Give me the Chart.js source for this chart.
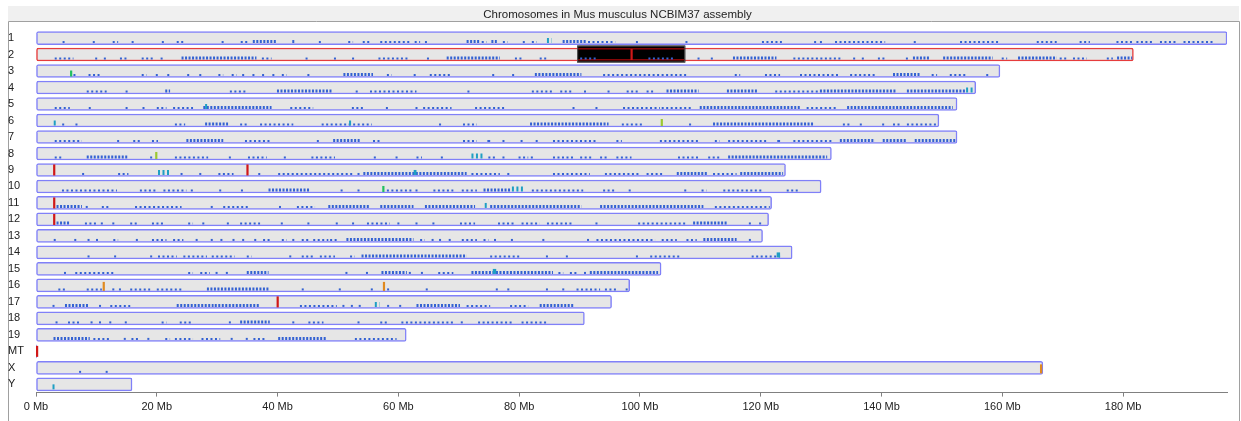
<!DOCTYPE html>
<html>
<head>
<meta charset="utf-8">
<title>Chromosomes in Mus musculus NCBIM37 assembly</title>
<script src="https://cdn.jsdelivr.net/npm/chart.js@4.4.1/dist/chart.umd.min.js"></script>
<style>
html, body { margin: 0; padding: 0; background: #fff; }
#wrap { width: 1241px; height: 421px; position: relative; }
</style>
</head>
<body>
<div id="wrap"><canvas id="chromosome-chart"></canvas></div>
<script>
// chromosome names, top to bottom
var chromosomes = ['1', '2', '3', '4', '5', '6', '7', '8', '9', '10', '11', '12', '13', '14', '15', '16', '17', '18', '19', 'MT', 'X', 'Y'];
// lengths in Mb (NCBIM37)
var lengthsMb = [197.2, 181.7, 159.6, 155.6, 152.5, 149.5, 152.5, 131.7, 124.1, 130.0, 121.8, 121.3, 120.3, 125.2, 103.5, 98.3, 95.3, 90.8, 61.3, 0.016, 166.7, 15.9];
var axisMaxMb = 197.2;
var tickStepMb = 20;

// selected region on chr 2
var highlightChr = '2';
var highlightMb = [89.6, 107.5];

// single markers: [chromosome, position Mb, kind]
var markers = [
    ['2', 98.6, 'red'],
    ['3', 5.8, 'green'],
    ['6', 103.6, 'lime'],
    ['8', 19.9, 'lime'],
    ['9', 3.0, 'red'],
    ['9', 35.0, 'red'],
    ['10', 57.5, 'green'],
    ['11', 3.0, 'red'],
    ['12', 3.0, 'red'],
    ['16', 11.2, 'orange'],
    ['16', 57.6, 'orange'],
    ['17', 40.0, 'red'],
    ['MT', 0, 'red'],
    ['X', 166.4, 'orange']
];

// feature hits per chromosome (same order as chromosomes): [start Mb, end Mb, density level]
var featureRegions = [
    [[4.4,5.1,1],[9.4,10.0,1],[12.7,13.6,1],[16.0,16.0,1],[21.0,21.0,1],[23.3,24.7,1],[30.9,30.9,1],[33.9,35.1,1],[35.9,39.9,2],[42.6,42.6,2],[47.0,47.0,1],[51.7,52.5,1],[54.1,55.3,1],[57.0,61.9,1],[62.7,63.6,1],[64.4,64.9,1],[71.3,73.5,2],[73.8,74.6,1],[75.4,76.3,2],[77.3,78.1,1],[80.6,81.3,1],[82.1,82.9,1],[84.6,85.4,3],[87.2,91.2,2],[91.4,95.9,1],[99.5,99.5,1],[107.7,107.7,1],[120.2,123.5,1],[129.0,129.0,1],[129.8,130.3,1],[132.3,140.6,1],[145.5,145.5,1],[153.0,159.6,1],[165.7,169.0,1],[172.8,174.5,1],[178.9,181.7,1],[182.2,185.0,1],[186.1,188.9,1],[190.0,194.9,1]],
    [[3.1,6.2,1],[9.8,10.3,1],[11.4,11.4,1],[13.9,15.0,1],[17.5,19.7,1],[20.8,20.8,1],[24.1,36.5,2],[37.4,39.0,1],[44.8,44.8,1],[49.5,49.5,1],[52.5,52.5,1],[56.7,61.9,1],[64.9,64.9,1],[68.0,76.8,2],[79.3,80.7,1],[83.4,84.8,1],[90.1,92.8,1],[101.4,105.8,1],[109.7,109.7,1],[111.9,111.9,1],[115.4,122.6,2],[125.4,133.6,1],[135.3,135.9,1],[136.9,136.9,1],[139.4,140.6,1],[144.2,144.2,1],[145.2,148.0,2],[150.2,158.4,2],[159.9,160.8,1],[162.6,169.0,2],[169.5,170.7,1],[171.7,174.0,1],[177.3,178.3,1],[179.0,181.5,2]],
    [[6.2,6.7,1],[8.7,10.6,1],[17.5,18.3,1],[20.0,20.0,1],[21.9,21.9,1],[25.2,25.2,1],[27.2,27.2,1],[30.2,31.0,1],[32.4,33.2,1],[34.3,34.3,1],[36.0,36.0,1],[37.6,37.6,1],[39.3,39.3,1],[40.7,41.5,1],[45.1,45.1,1],[50.9,55.8,2],[58.1,58.9,1],[62.7,62.7,1],[65.2,68.8,1],[75.7,75.7,1],[79.0,79.0,1],[82.6,90.3,2],[93.9,107.7,1],[115.7,116.6,1],[120.7,123.2,1],[126.5,133.1,1],[134.8,138.9,1],[141.9,146.4,2],[148.3,149.2,1],[151.3,154.1,1],[157.5,157.5,1]],
    [[8.4,11.7,1],[15.0,15.0,1],[21.4,22.2,2],[32.1,34.9,1],[39.9,49.0,2],[53.1,53.1,1],[55.3,63.0,1],[71.6,71.6,1],[82.1,85.7,1],[86.8,89.0,1],[90.9,90.9,1],[94.8,94.8,1],[97.8,100.0,1],[101.1,102.5,1],[104.4,109.7,2],[114.4,119.6,2],[122.4,129.8,1],[129.8,142.5,2],[144.2,154.0,2],[154.0,155.4,3]],
    [[3.1,5.6,1],[8.9,8.9,1],[15.0,15.0,1],[17.8,17.8,1],[20.0,21.6,1],[22.7,26.0,1],[27.7,39.0,2],[28.0,28.6,3],[42.1,45.9,1],[52.3,54.2,1],[58.1,58.1,1],[63.0,63.0,1],[64.1,68.8,1],[72.7,77.9,1],[89.0,89.0,1],[92.8,92.8,1],[97.2,103.3,1],[103.6,108.8,1],[109.9,126.5,2],[127.6,132.6,1],[134.3,151.8,2]],
    [[3.1,3.1,3],[4.5,4.5,1],[6.7,6.7,1],[23.0,24.7,1],[28.0,31.8,2],[33.8,35.1,1],[37.1,42.6,1],[47.3,55.6,1],[52.0,52.0,3],[66.9,66.9,1],[70.7,73.0,1],[81.8,94.8,2],[97.0,100.6,1],[108.3,108.3,1],[112.1,128.7,2],[133.6,134.8,1],[136.4,136.9,1],[140.1,140.6,1],[141.9,143.0,1],[144.2,149.2,1]],
    [[3.1,7.6,1],[13.6,13.6,1],[16.1,17.2,1],[19.2,20.2,1],[24.9,31.0,2],[34.6,39.0,1],[46.5,47.0,1],[49.2,53.6,2],[55.8,56.9,1],[70.7,73.0,1],[74.9,75.2,1],[77.4,77.4,1],[80.4,80.4,1],[82.9,82.9,1],[85.6,92.8,1],[96.1,97.0,1],[103.3,109.7,1],[112.4,113.2,1],[114.6,121.0,1],[122.9,123.2,1],[125.4,132.0,1],[133.1,138.9,2],[140.2,144.2,2],[145.5,152.2,2]],
    [[3.1,4.3,1],[8.4,15.3,2],[18.9,19.5,1],[23.0,28.5,1],[32.1,32.1,1],[35.1,38.2,1],[41.2,41.2,1],[45.6,49.5,1],[56.1,56.1,1],[59.7,59.7,1],[63.0,63.9,1],[67.2,67.2,1],[72.1,74.1,3],[74.9,76.0,1],[77.4,77.4,1],[79.9,81.5,1],[82.1,82.1,1],[85.6,89.2,1],[90.1,92.0,1],[93.4,94.8,1],[96.1,98.6,1],[106.3,109.9,1],[111.3,113.2,1],[114.6,131.0,2]],
    [[7.8,7.8,1],[13.6,15.3,1],[20.2,22.2,3],[24.1,24.1,1],[27.2,27.2,1],[30.2,32.7,1],[36.8,37.4,1],[40.1,52.5,1],[53.4,53.4,1],[54.2,71.3,2],[62.7,63.0,3],[72.1,76.8,1],[78.2,78.2,1],[85.6,91.7,1],[94.2,100.0,1],[101.1,103.9,1],[106.1,111.3,2],[112.1,116.0,1],[116.6,123.7,2]],
    [[4.3,13.4,1],[17.2,20.0,1],[21.1,24.9,1],[25.8,25.8,1],[30.5,30.5,1],[34.1,34.1,1],[38.5,45.4,2],[50.6,50.6,1],[53.4,53.4,1],[58.1,62.5,1],[63.0,63.0,1],[65.8,69.1,1],[70.5,73.0,1],[74.1,78.5,2],[78.8,81.0,3],[82.1,90.6,1],[93.9,96.1,1],[98.3,98.3,1],[107.5,107.5,1],[110.2,111.0,1],[113.8,120.4,1],[124.3,126.5,1]],
    [[3.4,7.6,2],[8.4,8.4,1],[10.9,12.0,1],[16.4,24.1,1],[29.1,29.1,1],[31.0,35.4,1],[40.4,40.4,1],[43.2,46.2,1],[48.4,55.3,2],[57.0,62.5,2],[64.4,72.7,2],[74.3,74.9,3],[75.2,90.3,2],[93.4,110.5,2],[112.4,121.5,1]],
    [[3.4,5.6,2],[8.1,10.0,1],[10.9,10.9,1],[12.8,12.8,1],[15.6,16.7,1],[19.2,21.4,1],[25.2,26.0,1],[27.7,27.7,1],[31.6,32.1,1],[33.8,37.1,1],[40.7,40.7,1],[45.1,45.1,1],[49.8,49.8,1],[52.5,52.5,1],[54.8,58.6,1],[60.0,60.0,1],[63.0,63.0,1],[65.8,65.8,1],[70.2,72.7,1],[76.5,79.3,1],[80.4,83.4,1],[84.6,89.0,1],[92.8,92.8,1],[99.7,107.7,1],[108.8,114.4,2],[118.2,118.2,1],[119.9,119.9,1]],
    [[3.1,3.1,1],[6.5,6.5,1],[8.7,8.7,1],[10.1,10.1,1],[12.8,13.6,1],[16.7,16.7,1],[19.2,21.6,1],[22.7,24.4,1],[26.6,26.6,1],[29.1,29.1,1],[30.7,30.7,1],[32.7,32.7,1],[34.3,34.3,1],[36.3,36.3,1],[37.6,38.7,1],[40.7,41.5,1],[42.6,42.6,1],[44.0,45.4,1],[45.9,48.4,1],[48.7,49.8,1],[51.4,62.5,2],[63.6,64.4,1],[65.5,66.1,1],[66.9,66.9,1],[68.5,68.5,1],[70.5,73.0,1],[74.1,74.9,1],[76.0,76.0,1],[78.8,78.8,1],[84.0,84.0,1],[91.4,91.4,1],[92.8,102.5,1],[103.6,106.1,1],[107.7,109.4,1],[110.5,116.0,2],[118.2,118.2,1]],
    [[8.7,8.7,1],[13.1,13.1,1],[18.9,19.4,1],[20.2,23.3,1],[24.4,28.3,1],[29.1,32.9,1],[34.9,35.7,1],[42.1,42.1,1],[44.0,45.9,1],[47.0,49.5,1],[52.0,52.8,1],[53.9,71.3,2],[75.2,80.1,1],[84.6,84.6,1],[87.9,87.9,1],[99.5,99.5,1],[101.7,106.6,1],[118.5,123.2,1],[122.8,123.2,3]],
    [[4.8,4.8,1],[6.5,13.1,1],[25.2,26.0,1],[27.2,28.8,1],[29.9,29.9,1],[31.6,31.6,1],[34.9,38.5,2],[51.4,51.4,1],[54.8,54.8,1],[57.2,61.4,2],[61.9,61.9,1],[63.9,63.9,1],[66.6,69.1,1],[72.1,85.6,2],[75.8,76.2,3],[86.5,87.3,1],[88.4,89.5,1],[90.9,90.9,1],[91.7,103.0,2]],
    [[3.7,5.1,1],[8.4,10.9,1],[12.8,12.8,1],[13.9,13.9,1],[15.6,18.9,1],[20.0,24.1,1],[28.3,38.5,2],[44.0,44.5,1],[50.3,50.3,1],[55.6,55.6,1],[58.3,58.3,1],[64.7,64.7,1],[76.3,76.3,1],[78.2,78.2,1],[84.6,84.6,1],[87.3,87.3,1],[89.5,93.4,1],[94.2,96.4,1],[97.8,97.8,1]],
    [[2.9,2.9,1],[4.8,8.7,2],[10.6,10.6,1],[12.3,15.6,1],[23.3,29.4,2],[29.6,37.1,2],[43.7,49.8,1],[50.9,50.9,1],[52.3,52.3,1],[53.6,53.6,1],[56.1,56.9,3],[58.3,58.3,1],[60.3,60.3,1],[63.0,70.2,2],[71.3,75.2,1],[78.5,81.5,1],[83.4,89.0,2]],
    [[3.4,3.4,1],[5.3,7.3,1],[9.2,9.2,1],[10.6,10.6,1],[12.3,12.3,1],[14.7,15.3,1],[20.8,21.6,1],[23.8,25.8,1],[32.1,32.1,1],[33.8,38.7,2],[42.6,42.6,1],[45.1,47.6,1],[53.4,53.4,1],[57.0,58.1,1],[60.5,69.1,1],[70.5,70.5,1],[73.2,79.0,1],[80.4,84.8,1]],
    [[2.9,8.9,2],[9.5,12.3,1],[14.7,14.7,1],[15.8,17.2,1],[18.6,18.6,1],[21.4,22.2,1],[23.0,26.0,1],[27.4,30.5,1],[32.4,32.4,1],[34.9,34.9,1],[36.0,37.9,1],[40.1,48.1,2],[52.8,59.7,1]],
    [],
    [[7.3,7.3,1],[11.7,11.7,1]],
    [[2.9,2.9,3]]
];

var markerColors = { red: '#d01818', green: '#22c060', lime: '#9cc832', orange: '#e08a20' };
var markerHeights = { red: 11, green: 6, lime: 7, orange: 9 };
var BAR_H = 13;

var framePlugin = {
    id: 'frame',
    beforeDraw: function(chart) {
        var ctx = chart.ctx;
        var w = chart.width;
        ctx.save();
        ctx.fillStyle = '#f0f0f0';
        ctx.fillRect(8, 6, w - 10, 15.5);
        ctx.strokeStyle = '#a0a0a0';
        ctx.lineWidth = 1;
        ctx.beginPath();
        ctx.moveTo(8.5, chart.height);
        ctx.lineTo(8.5, 21.5);
        ctx.lineTo(w - 1.5, 21.5);
        ctx.lineTo(w - 1.5, chart.height);
        ctx.stroke();
        ctx.restore();
    }
};

var featurePlugin = {
    id: 'features',
    afterDatasetsDraw: function(chart) {
        var ctx = chart.ctx;
        var xs = chart.scales.x;
        var ys = chart.scales.y;
        var half = BAR_H / 2;
        ctx.save();

        // black selection box on chr 2
        var hi = chromosomes.indexOf(highlightChr);
        var hy = ys.getPixelForValue(hi);
        var hx0 = xs.getPixelForValue(highlightMb[0]);
        var hx1 = xs.getPixelForValue(highlightMb[1]);
        ctx.fillStyle = '#000';
        ctx.fillRect(hx0, hy - half - 2.5, hx1 - hx0, BAR_H + 4);
        ctx.strokeStyle = '#5a5a5a';
        ctx.lineWidth = 1;
        ctx.strokeRect(hx0 + 0.5, hy - half - 2, hx1 - hx0 - 1, BAR_H + 3);
        ctx.fillStyle = '#8a0808';
        ctx.fillRect(hx0 + 1, hy - half, hx1 - hx0 - 2, 1.5);
        ctx.fillRect(hx0 + 1, hy + half - 2, hx1 - hx0 - 2, 1.5);

        // feature hits
        for (var i = 0; i < featureRegions.length; i++) {
            var bottom = ys.getPixelForValue(i) + half - 1.5;
            var list = featureRegions[i];
            for (var j = 0; j < list.length; j++) {
                var f = list[j];
                var x0 = xs.getPixelForValue(f[0]);
                var x1 = xs.getPixelForValue(f[1]);
                var h = f[2] === 3 ? 5 : (f[2] === 2 ? 3 : 2);
                ctx.fillStyle = f[2] === 3 ? '#1f9fc4' : '#3462d2';
                ctx.strokeStyle = ctx.fillStyle;
                if (x1 - x0 < 3) {
                    ctx.fillRect(x0 - 1, bottom - h, Math.max(2, x1 - x0 + 1), h);
                } else {
                    ctx.lineWidth = h;
                    ctx.setLineDash(f[2] === 2 ? [2, 1.5] : [2, 2.5]);
                    ctx.beginPath();
                    ctx.moveTo(x0, bottom - h / 2);
                    ctx.lineTo(x1, bottom - h / 2);
                    ctx.stroke();
                    ctx.setLineDash([]);
                }
            }
        }

        // single markers
        for (var k = 0; k < markers.length; k++) {
            var m = markers[k];
            var row = chromosomes.indexOf(m[0]);
            var yb = ys.getPixelForValue(row) + half - 1;
            var mx = xs.getPixelForValue(m[1]);
            var mh = markerHeights[m[2]];
            ctx.fillStyle = markerColors[m[2]];
            ctx.fillRect(Math.max(mx - 1, xs.left), yb - mh, 2.2, mh);
        }
        ctx.restore();
    }
};

Chart.defaults.font.family = "'Liberation Sans', Arial, sans-serif";
Chart.defaults.font.size = 11;
Chart.defaults.color = '#222';

var ctx = document.getElementById('chromosome-chart');
var chromosomeChart = new Chart(ctx, {
    type: 'bar',
    data: {
        labels: chromosomes,
        datasets: [{
            label: 'Chromosomes',
            data: lengthsMb.map(function(len) { return [0, len]; }),
            backgroundColor: '#e6e6e6',
            borderColor: chromosomes.map(function(c) { return c === highlightChr ? '#e63c3c' : '#8080f8'; }),
            borderWidth: 1.5,
            borderRadius: 2,
            borderSkipped: false,
            barThickness: BAR_H
        }]
    },
    options: {
        indexAxis: 'y',
        responsive: true,
        maintainAspectRatio: false,
        animation: false,
        layout: {
            padding: { left: 8, right: 14, top: 0.5, bottom: 3.2 }
        },
        plugins: {
            legend: { display: false },
            tooltip: { enabled: false },
            title: {
                display: true,
                text: 'Chromosomes in Mus musculus NCBIM37 assembly',
                color: '#222',
                font: { size: 11.5, weight: 'normal' },
                padding: { top: 7, bottom: 8.5 }
            }
        },
        scales: {
            x: {
                min: 0,
                max: axisMaxMb,
                grid: { drawOnChartArea: false, color: '#808080', tickLength: 4 },
                border: { color: '#808080' },
                ticks: {
                    stepSize: tickStepMb,
                    includeBounds: false,
                    padding: 4,
                    color: '#222',
                    maxRotation: 0,
                    callback: function(v) { return v + ' Mb'; }
                }
            },
            y: {
                grid: { display: false },
                border: { display: false },
                ticks: { crossAlign: 'far', padding: 0, color: '#222', autoSkip: false },
                afterFit: function(scale) { scale.width = 28; }
            }
        }
    },
    plugins: [framePlugin, featurePlugin]
});
</script>
</body>
</html>
